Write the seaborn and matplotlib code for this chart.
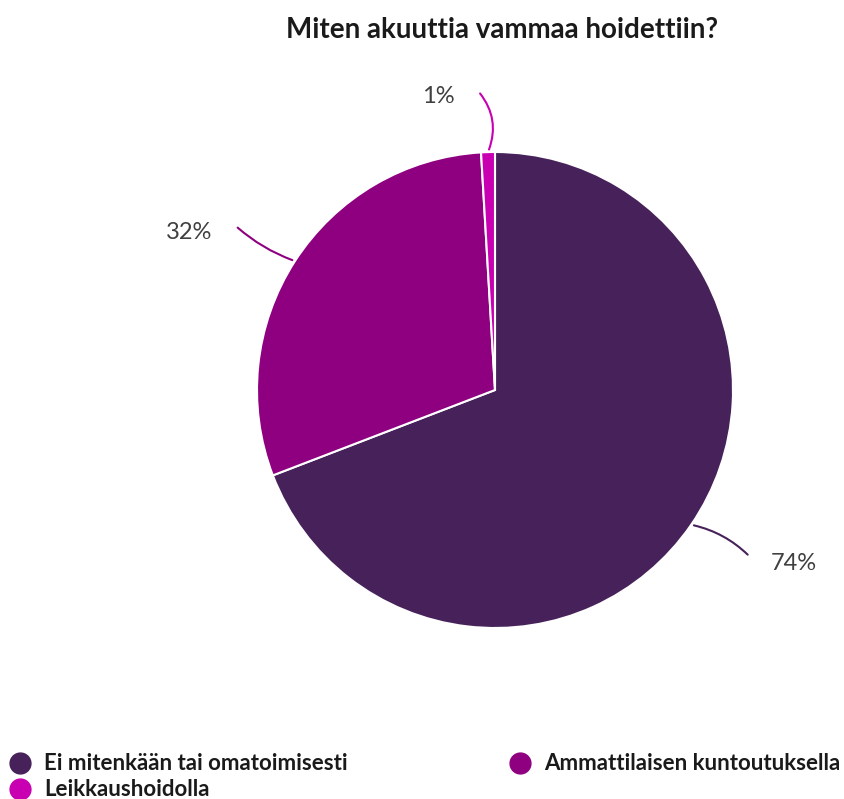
import numpy as np
import matplotlib
matplotlib.use("Agg")
import matplotlib.pyplot as plt
import seaborn as sns
from matplotlib.lines import Line2D

title = "Miten akuuttia vammaa hoidettiin?"
categories = ["Ei mitenkään tai omatoimisesti", "Ammattilaisen kuntoutuksella", "Leikkaushoidolla"]
values = [74, 32, 1]
labels = ["74%", "32%", "1%"]
colors = ["#46215a", "#8f0080", "#c800b1"]

sns.set_theme(style="white")
plt.rcParams["font.family"] = ["Lato", "DejaVu Sans"]

W, H = 844, 799
fig = plt.figure(figsize=(W / 100, H / 100), dpi=100)
cx, cy, r = 495, 390, 238
ax = fig.add_axes([(cx - r) / W, (H - cy - r) / H, 2 * r / W, 2 * r / H])
wedges, _ = ax.pie(values, colors=colors, startangle=90, counterclock=False,
                   radius=1, wedgeprops=dict(edgecolor="white", linewidth=1.5))
ax.set_xlim(-1, 1)
ax.set_ylim(-1, 1)
ax.set_aspect("equal")
ax.axis("off")

# label offsets (style): text position and leader end, in radius units
text_pos = [(1.255, -0.73), (-1.286, 0.66), (-0.24, 1.235)]
line_end = [(1.07, -0.70), (-1.09, 0.69), (-0.07, 1.255)]
rads = [0.15, 0.1, -0.3]
for w, lab, col, tp, le, rad in zip(wedges, labels, colors, text_pos, line_end, rads):
    ang = np.deg2rad((w.theta1 + w.theta2) / 2)
    edge = (np.cos(ang), np.sin(ang))
    ax.annotate("", xy=edge, xytext=le,
                arrowprops=dict(arrowstyle="-", color=col, lw=1.5,
                                connectionstyle=f"arc3,rad={rad}"),
                annotation_clip=False)
    ax.text(tp[0], tp[1], lab, ha="center", va="center", fontsize=17,
            color="#404040")

fig.text(502 / W, 1 - 30 / H, title, ha="center", va="center",
         fontsize=20, fontweight="bold", color="#1a1a1a")

legend_pos = [(20, 763), (520, 763), (20, 789)]
for (lx, ly), c, name in zip(legend_pos, colors, categories):
    fig.add_artist(Line2D([lx / W], [1 - ly / H], marker="o", linestyle="",
                          markersize=15, markerfacecolor=c, markeredgecolor=c,
                          transform=fig.transFigure))
    fig.text((lx + 24) / W, 1 - ly / H, name, ha="left", va="center",
             fontsize=16, fontweight="bold", color="#1a1a1a")

fig.savefig("out.png", dpi=100, facecolor="white")
